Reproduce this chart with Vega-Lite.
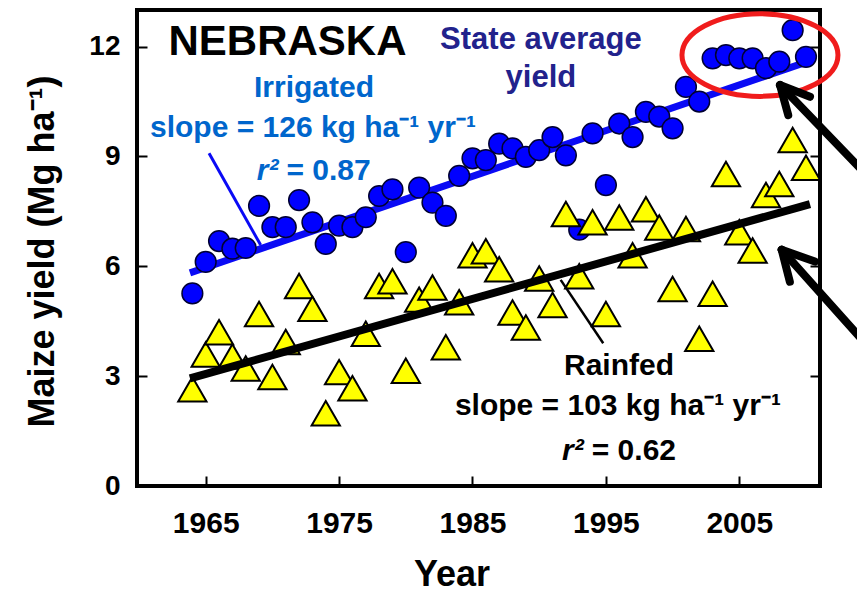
{
  "$schema": "https://vega.github.io/schema/vega-lite/v6.json",
  "width": 683,
  "height": 476,
  "autosize": {"type": "none"},
  "padding": {"left": 137, "top": 10, "right": 37, "bottom": 107},
  "background": "white",
  "config": {
    "view": {"stroke": "black", "strokeWidth": 4},
    "font": "Liberation Sans",
    "axis": {
      "labelFont": "Liberation Sans",
      "labelFontWeight": "bold",
      "labelColor": "black",
      "titleFont": "Liberation Sans",
      "titleFontWeight": "bold",
      "titleColor": "black",
      "domain": false,
      "grid": false,
      "ticks": true,
      "tickColor": "black",
      "tickWidth": 2,
      "tickSize": 10,
      "offset": -10,
      "zindex": 1
    },
    "text": {"font": "Liberation Sans", "fontWeight": "bold", "baseline": "alphabetic", "align": "center"}
  },
  "datasets": {
    "irrigated": [
      {"year": 1964, "yield": 5.26}, {"year": 1965, "yield": 6.12}, {"year": 1966, "yield": 6.69},
      {"year": 1967, "yield": 6.48}, {"year": 1968, "yield": 6.5}, {"year": 1969, "yield": 7.65},
      {"year": 1970, "yield": 7.07}, {"year": 1971, "yield": 7.07}, {"year": 1972, "yield": 7.81},
      {"year": 1973, "yield": 7.2}, {"year": 1974, "yield": 6.61}, {"year": 1975, "yield": 7.11},
      {"year": 1976, "yield": 7.07}, {"year": 1977, "yield": 7.34}, {"year": 1978, "yield": 7.92},
      {"year": 1979, "yield": 8.1}, {"year": 1980, "yield": 6.39}, {"year": 1981, "yield": 8.15},
      {"year": 1982, "yield": 7.74}, {"year": 1983, "yield": 7.38}, {"year": 1984, "yield": 8.47},
      {"year": 1985, "yield": 8.95}, {"year": 1986, "yield": 8.9}, {"year": 1987, "yield": 9.35},
      {"year": 1988, "yield": 9.22}, {"year": 1989, "yield": 8.99}, {"year": 1990, "yield": 9.17},
      {"year": 1991, "yield": 9.53}, {"year": 1992, "yield": 9.03}, {"year": 1993, "yield": 7.0},
      {"year": 1994, "yield": 9.63}, {"year": 1995, "yield": 8.22}, {"year": 1996, "yield": 9.9},
      {"year": 1997, "yield": 9.53}, {"year": 1998, "yield": 10.22}, {"year": 1999, "yield": 10.09},
      {"year": 2000, "yield": 9.77}, {"year": 2001, "yield": 10.9}, {"year": 2002, "yield": 10.5},
      {"year": 2003, "yield": 11.68}, {"year": 2004, "yield": 11.77}, {"year": 2005, "yield": 11.68},
      {"year": 2006, "yield": 11.68}, {"year": 2007, "yield": 11.41}, {"year": 2008, "yield": 11.59},
      {"year": 2009, "yield": 12.45}, {"year": 2010, "yield": 11.72}
    ],
    "rainfed": [
      {"year": 1964, "yield": 2.64}, {"year": 1965, "yield": 3.59}, {"year": 1966, "yield": 4.2},
      {"year": 1967, "yield": 3.54}, {"year": 1968, "yield": 3.21}, {"year": 1969, "yield": 4.7},
      {"year": 1970, "yield": 2.98}, {"year": 1971, "yield": 3.93}, {"year": 1972, "yield": 5.46},
      {"year": 1973, "yield": 4.84}, {"year": 1974, "yield": 1.99}, {"year": 1975, "yield": 3.11},
      {"year": 1976, "yield": 2.67}, {"year": 1977, "yield": 4.16}, {"year": 1978, "yield": 5.46},
      {"year": 1979, "yield": 5.59}, {"year": 1980, "yield": 3.15}, {"year": 1981, "yield": 5.09},
      {"year": 1982, "yield": 5.42}, {"year": 1983, "yield": 3.79}, {"year": 1984, "yield": 5.02},
      {"year": 1985, "yield": 6.3}, {"year": 1986, "yield": 6.41}, {"year": 1987, "yield": 5.92},
      {"year": 1988, "yield": 4.74}, {"year": 1989, "yield": 4.33}, {"year": 1990, "yield": 5.67},
      {"year": 1991, "yield": 4.94}, {"year": 1992, "yield": 7.43}, {"year": 1993, "yield": 5.73},
      {"year": 1994, "yield": 7.2}, {"year": 1995, "yield": 4.7}, {"year": 1996, "yield": 7.33},
      {"year": 1997, "yield": 6.3}, {"year": 1998, "yield": 7.56}, {"year": 1999, "yield": 7.06},
      {"year": 2000, "yield": 5.38}, {"year": 2001, "yield": 7.02}, {"year": 2002, "yield": 4.02},
      {"year": 2003, "yield": 5.25}, {"year": 2004, "yield": 8.52}, {"year": 2005, "yield": 6.93},
      {"year": 2006, "yield": 6.43}, {"year": 2007, "yield": 7.95}, {"year": 2008, "yield": 8.25},
      {"year": 2009, "yield": 9.45}, {"year": 2010, "yield": 8.69}
    ],
    "fits": [
      {"series": "Irrigated", "year": 1963.82, "yield": 5.82, "year2": 2009.8, "yield2": 11.55},
      {"series": "Rainfed", "year": 1963.82, "yield": 2.94, "year2": 2010.3, "yield2": 7.7}
    ],
    "leaders": [
      {"series": "Irrigated", "year": 1965.25, "yield": 9.09, "year2": 1969.12, "yield2": 6.58},
      {"series": "Rainfed", "year": 1991.61, "yield": 5.63, "year2": 1994.8, "yield2": 3.9}
    ],
    "highlight": [
      {"year": 2006.55, "yield": 11.77}
    ],
    "arrows": [
      {"year": 2008.05, "yield": 10.95, "year2": 2014.05, "yield2": 8.68},
      {"year": 2008.05, "yield": 10.95, "year2": 2010.3, "yield2": 10.63},
      {"year": 2008.05, "yield": 10.95, "year2": 2008.67, "yield2": 10.13},
      {"year": 2008.18, "yield": 6.45, "year2": 2014.05, "yield2": 4.06},
      {"year": 2008.18, "yield": 6.45, "year2": 2010.67, "yield2": 6.13},
      {"year": 2008.18, "yield": 6.45, "year2": 2008.79, "yield2": 5.58}
    ],
    "notes": [
      {"group": "title", "year": 1971.13, "yield": 11.77, "label": "NEBRASKA"},
      {"group": "state", "year": 1990.13, "yield": 11.94, "label": "State average"},
      {"group": "state", "year": 1990.13, "yield": 10.9, "label": "yield"},
      {"group": "Irrigated", "year": 1973.12, "yield": 10.62, "label": "Irrigated"},
      {"group": "Irrigated", "year": 1973.04, "yield": 9.53, "label": "slope = 126 kg ha⁻¹ yr⁻¹"},
      {"group": "Rainfed", "year": 1995.98, "yield": 3.03, "label": "Rainfed"},
      {"group": "Rainfed", "year": 1995.9, "yield": 1.94, "label": "slope = 103 kg ha⁻¹ yr⁻¹"}
    ],
    "fitstats": [
      {"group": "Irrigated", "year": 1970.45, "yield": 8.36, "label": "= 0.87"},
      {"group": "Rainfed", "year": 1993.34, "yield": 0.71, "label": "= 0.62"}
    ]
  },
  "encoding": {
    "x": {
      "field": "year", "type": "quantitative",
      "scale": {"domain": [1959.85, 2011.05], "nice": false, "zero": false},
      "axis": {
        "orient": "bottom", "values": [1965, 1975, 1985, 1995, 2005], "format": "d",
        "labelFontSize": 30, "labelBaseline": "alphabetic", "labelPadding": 46.7,
        "title": "Year", "titleFontSize": 36, "titleX": 314.5, "titleY": 109,
        "titleBaseline": "alphabetic", "titleAlign": "center"
      }
    },
    "y": {"field": "yield", "type": "quantitative", "scale": {"domain": [0, 13], "nice": false, "zero": false}, "axis": null}
  },
  "resolve": {"axis": {"y": "independent"}},
  "layer": [
    {
      "data": {"name": "fits"},
      "transform": [{"filter": "datum.series === 'Irrigated'"}],
      "mark": {"type": "rule", "color": "#0a0af5", "strokeWidth": 7},
      "encoding": {
        "y": {
          "field": "yield", "type": "quantitative",
          "scale": {"domain": [0, 13], "nice": false, "zero": false},
          "axis": {
            "orient": "left", "values": [0, 3, 6, 9, 12],
            "labelFontSize": 28, "labelAlign": "right", "labelBaseline": "middle", "labelPadding": 17,
            "title": "Maize yield (Mg ha⁻¹)", "titleFontSize": 36, "titleAngle": -90,
            "titleX": -94, "titleY": 241, "titleBaseline": "alphabetic", "titleAlign": "center"
          }
        },
        "x2": {"field": "year2"},
        "y2": {"field": "yield2"}
      }
    },
    {
      "data": {"name": "leaders"},
      "transform": [{"filter": "datum.series === 'Irrigated'"}],
      "mark": {"type": "rule", "color": "#0a0af5", "strokeWidth": 3},
      "encoding": {"x2": {"field": "year2"}, "y2": {"field": "yield2"}}
    },
    {
      "data": {"name": "irrigated"},
      "mark": {"type": "point", "shape": "circle", "filled": true, "size": 430, "color": "#0000ff", "stroke": "#000033", "strokeWidth": 1.5, "opacity": 1}
    },
    {
      "data": {"name": "rainfed"},
      "mark": {"type": "point", "shape": "triangle-up", "filled": true, "size": 800, "color": "#ffff00", "stroke": "black", "strokeWidth": 2, "opacity": 1},
      "encoding": {
        "y": {
          "field": "yield", "type": "quantitative",
          "scale": {"domain": [0, 13], "nice": false, "zero": false},
          "axis": {"orient": "right", "values": [3, 6, 9, 12], "labels": false, "title": null}
        }
      }
    },
    {
      "data": {"name": "fits"},
      "transform": [{"filter": "datum.series === 'Rainfed'"}],
      "mark": {"type": "rule", "color": "black", "strokeWidth": 8},
      "encoding": {"x2": {"field": "year2"}, "y2": {"field": "yield2"}}
    },
    {
      "data": {"name": "leaders"},
      "transform": [{"filter": "datum.series === 'Rainfed'"}],
      "mark": {"type": "rule", "color": "black", "strokeWidth": 2.5},
      "encoding": {"x2": {"field": "year2"}, "y2": {"field": "yield2"}}
    },
    {
      "data": {"name": "highlight"},
      "mark": {"type": "point", "shape": "M-1,0A1,0.53,0,1,1,1,0A1,0.53,0,1,1,-1,0Z", "filled": false, "size": 24336, "stroke": "#f01c1c", "strokeWidth": 5, "opacity": 1, "clip": false}
    },
    {
      "data": {"name": "arrows"},
      "mark": {"type": "rule", "color": "black", "strokeWidth": 8, "strokeCap": "round", "clip": false},
      "encoding": {"x2": {"field": "year2"}, "y2": {"field": "yield2"}}
    },
    {
      "data": {"name": "notes"},
      "transform": [{"filter": "datum.group === 'title'"}],
      "mark": {"type": "text", "fontSize": 42, "color": "black"},
      "encoding": {"text": {"field": "label"}}
    },
    {
      "data": {"name": "notes"},
      "transform": [{"filter": "datum.group === 'state'"}],
      "mark": {"type": "text", "fontSize": 31, "color": "#22228c"},
      "encoding": {"text": {"field": "label"}}
    },
    {
      "data": {"name": "notes"},
      "transform": [{"filter": "datum.group === 'Irrigated'"}],
      "mark": {"type": "text", "fontSize": 30, "color": "#0066cc"},
      "encoding": {"text": {"field": "label"}}
    },
    {
      "data": {"name": "notes"},
      "transform": [{"filter": "datum.group === 'Rainfed'"}],
      "mark": {"type": "text", "fontSize": 30, "color": "black"},
      "encoding": {"text": {"field": "label"}}
    },
    {
      "data": {"name": "fitstats"},
      "transform": [{"filter": "datum.group === 'Irrigated'"}],
      "mark": {"type": "text", "fontSize": 30, "fontStyle": "italic", "align": "right", "color": "#0066cc", "text": "r²"}
    },
    {
      "data": {"name": "fitstats"},
      "transform": [{"filter": "datum.group === 'Irrigated'"}],
      "mark": {"type": "text", "fontSize": 30, "align": "left", "dx": 8, "color": "#0066cc"},
      "encoding": {"text": {"field": "label"}}
    },
    {
      "data": {"name": "fitstats"},
      "transform": [{"filter": "datum.group === 'Rainfed'"}],
      "mark": {"type": "text", "fontSize": 30, "fontStyle": "italic", "align": "right", "color": "black", "text": "r²"}
    },
    {
      "data": {"name": "fitstats"},
      "transform": [{"filter": "datum.group === 'Rainfed'"}],
      "mark": {"type": "text", "fontSize": 30, "align": "left", "dx": 8, "color": "black"},
      "encoding": {"text": {"field": "label"}}
    }
  ]
}
